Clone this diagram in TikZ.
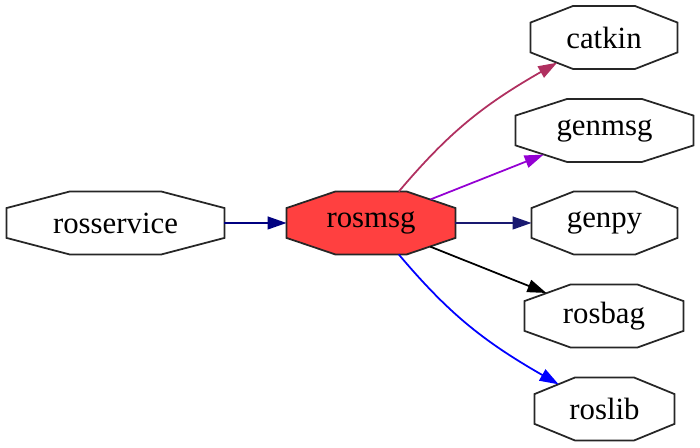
\documentclass[tikz,border=0pt]{standalone}
\usepackage{fontspec}
\setmainfont{Liberation Serif}
\usetikzlibrary{arrows.meta,backgrounds}

\definecolor{maroonx}{HTML}{B03060}
\definecolor{violetx}{HTML}{9400D3}
\definecolor{midnight}{HTML}{191970}
\definecolor{navyx}{HTML}{000080}
\definecolor{hotred}{HTML}{FF4040}
\newcommand\pxl{0.4545pt}

\begin{document}
\begin{tikzpicture}
  [x=0.4545pt,y=0.4545pt,
   every node/.style={font=\fontsize{14}{16}\selectfont},
   pkg/.style={rectangle,inner sep=0pt,minimum width=#1*\pxl,minimum height=62*\pxl},
   dep/.style={line width=0.8pt,draw=#1,-{Triangle[length=8.6pt,width=5.8pt,fill=#1]}}]
  \useasboundingbox (0,0) rectangle (700,448);

  \node[pkg=217] (rosservice) at (115.5,225) {rosservice};
  \node[pkg=168] (rosmsg) at (371,225) {rosmsg};
  \node[pkg=146] (catkin) at (604,410.5) {catkin};
  \node[pkg=177] (genmsg) at (604.5,317.5) {genmsg};
  \node[pkg=145] (genpy) at (604.5,225) {genpy};
  \node[pkg=158] (rosbag) at (604,132) {rosbag};
  \node[pkg=139] (roslib) at (604.5,39) {roslib};

  % octagon outlines behind the labels
  \begin{scope}[on background layer]
    \foreach \n/\c/\f in {rosservice/63/white,rosmsg/48.7/hotred,catkin/42.3/white,
        genmsg/51.3/white,genpy/42/white,rosbag/45.8/white,roslib/40.3/white}
      \draw[line width=0.8pt,draw=black!85,fill=\f]
        ([xshift=\c*\pxl]\n.north west) -- ([xshift=-\c*\pxl]\n.north east)
        -- ([yshift=-16.5*\pxl]\n.north east) -- ([yshift=16.5*\pxl]\n.south east)
        -- ([xshift=-\c*\pxl]\n.south east) -- ([xshift=\c*\pxl]\n.south west)
        -- ([yshift=16.5*\pxl]\n.south west) -- ([yshift=-16.5*\pxl]\n.north west)
        -- cycle;
  \end{scope}

  \draw[dep=navyx] (rosservice) -- (rosmsg);
  \draw[dep=maroonx,shorten >=-12.6*\pxl] (rosmsg) to[bend left=10] (catkin);
  \draw[dep=violetx,shorten <=-21.3*\pxl,shorten >=-19.8*\pxl] (rosmsg) -- (genmsg);
  \draw[dep=midnight] (rosmsg) -- (genpy);
  \draw[dep=black,shorten <=-20.9*\pxl,shorten >=-22.7*\pxl] (rosmsg) -- (rosbag);
  \draw[dep=blue,shorten >=-13.7*\pxl] (rosmsg) to[bend right=10] (roslib);

\end{tikzpicture}
\end{document}
